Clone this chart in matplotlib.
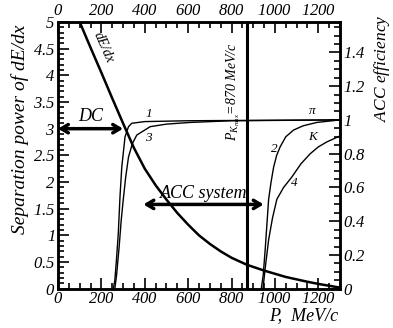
import matplotlib
matplotlib.use("Agg")
import matplotlib.pyplot as plt
from matplotlib.ticker import MultipleLocator, FixedLocator, FixedFormatter

plt.rcParams['font.family'] = ['Liberation Serif', 'DejaVu Serif']
plt.rcParams['font.style'] = 'italic'
plt.rcParams['mathtext.fontset'] = 'custom'
plt.rcParams['mathtext.it'] = 'Liberation Serif:italic'
plt.rcParams['mathtext.rm'] = 'Liberation Serif'

# dE/dx separation power (left axis)
dedx_p = [100, 150, 200, 250, 300, 350, 400, 450, 500, 550, 600, 650, 700, 750, 800, 870,
          950, 1050, 1150, 1200, 1300]
dedx_s = [5.0, 4.52, 4.05, 3.57, 3.1, 2.64, 2.25, 1.94, 1.67, 1.42, 1.2, 1.0, 0.84, 0.7,
          0.58, 0.45, 0.34, 0.22, 0.13, 0.09, 0.02]

# ACC efficiency curves (right axis)
c1_p = [255, 262, 270, 278, 286, 294, 309, 325, 340, 400, 600, 1300]
c1_e = [0.0, 0.05, 0.18, 0.33, 0.55, 0.72, 0.90, 0.96, 0.98, 0.99, 0.995, 1.0]
c3_p = [262, 270, 282, 291, 301, 312, 325, 343, 363, 425, 500, 609, 800, 1300]
c3_e = [0.0, 0.08, 0.25, 0.40, 0.53, 0.66, 0.78, 0.86, 0.91, 0.96, 0.975, 0.985, 0.995, 1.0]
c2_p = [937, 946, 955, 963, 971, 982, 994, 1008, 1024, 1050, 1086, 1130, 1193, 1300]
c2_e = [0.0, 0.08, 0.23, 0.38, 0.53, 0.63, 0.72, 0.79, 0.84, 0.90, 0.94, 0.965, 0.985, 1.0]
c4_p = [945, 955, 971, 989, 1009, 1040, 1077, 1120, 1163, 1200, 1240, 1300]
c4_e = [0.0, 0.12, 0.29, 0.42, 0.53, 0.60, 0.66, 0.74, 0.80, 0.84, 0.87, 0.905]

p_kmax = 870
dc_range = [0, 300]
dc_level = 3.0
acc_range = [394, 948]
acc_level = 1.58

left_ticks = [0, 0.5, 1, 1.5, 2, 2.5, 3, 3.5, 4, 4.5, 5]
left_labels = ['0', '0.5', '1', '1.5', '2', '2.5', '3', '3.5', '4', '4.5', '5']
right_ticks = [0, 0.2, 0.4, 0.6, 0.8, 1.0, 1.2, 1.4]
right_labels = ['0', '0.2', '0.4', '0.6', '0.8', '1', '1.2', '1.4']
x_ticks = [0, 200, 400, 600, 800, 1000, 1200]
x_labels = ['0', '200', '400', '600', '800', '1000', '1200']


def it(labels):
    return [r'$\mathit{%s}$' % s for s in labels]


fig = plt.figure(figsize=(3.93, 3.28), dpi=100)
ax = fig.add_axes([58/393, 1 - 288.7/328, 282/393, 266.7/328])
ax2 = ax.twinx()

ax.set_xlim(0, 1300)
ax.set_ylim(0, 5)
ax2.set_ylim(0, 1.58)

ax.plot(dedx_p, dedx_s, color='black', lw=1.8)
ax.axvline(p_kmax, color='black', lw=2.2)

for p, e in [(c1_p, c1_e), (c3_p, c3_e), (c2_p, c2_e), (c4_p, c4_e)]:
    ax2.plot(p, e, color='black', lw=1.0)

arrow_kw = dict(arrowstyle='<->, head_length=0.5, head_width=0.3', lw=2.5, color='black',
                shrinkA=0, shrinkB=0)
ax.annotate('', xy=(dc_range[1], dc_level), xytext=(dc_range[0], dc_level), arrowprops=arrow_kw)
ax.annotate('', xy=(acc_range[1], acc_level), xytext=(acc_range[0], acc_level), arrowprops=arrow_kw)

ax.text(150, 3.22, 'DC', fontsize=13, ha='center', va='center')
ax.text(670, 1.78, 'ACC system', fontsize=13, ha='center', va='center')
ax.text(208, 4.53, 'dE/dx', fontsize=10, rotation=-66, ha='center', va='center')
ax.text(808, 3.69, r'$P_{K_{max}}$=870 MeV/c', fontsize=10, rotation=90, ha='center', va='center')

ax2.text(417, 1.036, '1', fontsize=9.5, ha='center', va='center')
ax2.text(417, 0.89, '3', fontsize=9.5, ha='center', va='center')
ax2.text(1171, 1.05, 'π', fontsize=9.5, ha='center', va='center')
ax2.text(1175, 0.90, 'K', fontsize=9.5, ha='center', va='center')
ax2.text(998, 0.83, '2', fontsize=9.5, ha='center', va='center')
ax2.text(1089, 0.625, '4', fontsize=9.5, ha='center', va='center')

ax.xaxis.set_major_locator(FixedLocator(x_ticks))
ax.xaxis.set_major_formatter(FixedFormatter(it(x_labels)))
ax.xaxis.set_minor_locator(MultipleLocator(50))
ax.yaxis.set_major_locator(FixedLocator(left_ticks))
ax.yaxis.set_major_formatter(FixedFormatter(it(left_labels)))
ax.yaxis.set_minor_locator(MultipleLocator(0.1))
ax2.yaxis.set_major_locator(FixedLocator(right_ticks))
ax2.yaxis.set_major_formatter(FixedFormatter(it(right_labels)))
ax2.yaxis.set_minor_locator(MultipleLocator(0.05))

ax.tick_params(which='both', direction='in', top=True, bottom=True, left=True, right=False,
               labeltop=True, labelbottom=True, labelsize=12, width=1.2)
ax.tick_params(which='major', length=8, pad=2)
ax.tick_params(which='minor', length=4)
ax2.tick_params(which='both', direction='in', right=True, left=False, labelsize=12, width=1.2)
ax2.tick_params(which='major', length=8, pad=2)
ax2.tick_params(which='minor', length=4)

for sp in ax.spines.values():
    sp.set_linewidth(1.8)
for sp in ax2.spines.values():
    sp.set_linewidth(1.8)

fig.text(20/393, 1 - 129/328, 'Separation power of dE/dx', fontsize=14, rotation=90,
         ha='center', va='center')
fig.text(382/393, 1 - 68/328, r'$\mathrm{ACC}$ efficiency', fontsize=12.5, rotation=90,
         ha='center', va='center')
fig.text(304/393, 1 - 316/328, 'P,  MeV/c', fontsize=13, ha='center', va='center')

fig.savefig('out.png', dpi=100)
